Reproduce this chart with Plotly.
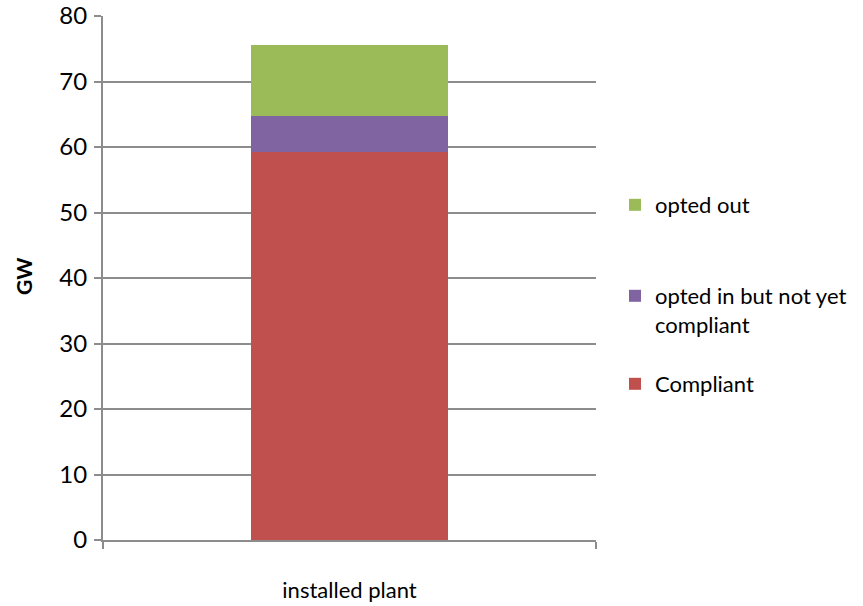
import plotly.graph_objects as go

categories = ["installed plant"]
compliant = [59.3]
opted_in_not_compliant = [5.4]
opted_out = [10.9]
y_ticks = [0, 10, 20, 30, 40, 50, 60, 70, 80]

FONT = "Lato, 'Open Sans', sans-serif"
GRID = "#8c8c8c"

fig = go.Figure()
fig.add_trace(go.Bar(x=categories, y=compliant, name="Compliant", showlegend=True,
                     marker=dict(color="#C0504D", line=dict(width=0)), legend="legend3"))
fig.add_trace(go.Bar(x=categories, y=opted_in_not_compliant, name="opted in but not yet<br>compliant",
                     showlegend=True,
                     marker=dict(color="#8064A2", line=dict(width=0)), legend="legend2"))
fig.add_trace(go.Bar(x=categories, y=opted_out, name="opted out", showlegend=True,
                     marker=dict(color="#9BBB59", line=dict(width=0)), legend="legend"))

# page body margin is removed by the post script, so figure px == screen px
H = 606
W = 863
ml, mt = 103, 16
mr = W - 596
mb = H - 540
ph = H - mt - mb
pw = W - ml - mr


def ly(py):  # py: screen pixel
    return (H - mb - py) / ph


def lx(px):
    return (px - ml) / pw


legend_common = dict(font=dict(family=FONT, size=22, color="#000"), bgcolor="rgba(0,0,0,0)",
                     xref="paper", yref="paper",
                     xanchor="left", yanchor="top", valign="top", itemclick=False,
                     visible=True)

fig.update_layout(
    width=W, height=H,
    margin=dict(l=ml, r=mr, t=mt, b=mb, autoexpand=False),
    barmode="stack",
    bargap=0.6,
    showlegend=True,
    plot_bgcolor="white",
    paper_bgcolor="white",
    font=dict(family=FONT, size=22, color="#000"),
    legend=dict(x=lx(615), y=ly(184), **legend_common),
    legend2=dict(x=lx(615), y=ly(275), **legend_common),
    legend3=dict(x=lx(615), y=ly(363), **legend_common),
    xaxis=dict(range=[-0.5, 0.5], showline=True, linecolor=GRID, linewidth=2,
               ticks="outside", tickson="boundaries", ticklen=7, tickcolor=GRID, tickwidth=2,
               ticklabelstandoff=30, tickfont=dict(family=FONT, size=22, color="#000"),
               showgrid=False, zeroline=False, automargin=False),
    yaxis=dict(range=[0, 80], tickvals=y_ticks, showline=True, linecolor=GRID, linewidth=2,
               ticks="outside", ticklen=7, tickcolor=GRID, tickwidth=2,
               ticklabelstandoff=2, ticklabeloverflow="allow",
               tickfont=dict(family=FONT, size=24, color="#000"),
               showgrid=True, gridcolor=GRID, gridwidth=2, zeroline=False, automargin=False),
    annotations=[dict(text="<b>GW</b>", x=lx(23), y=ly(277), xref="paper", yref="paper",
                      textangle=-90, showarrow=False, font=dict(family=FONT, size=21, color="#000"),
                      xanchor="center", yanchor="middle")],
)

fig.write_html("out.html", config={"displayModeBar": False},
               post_script="document.body.style.margin='0';")
